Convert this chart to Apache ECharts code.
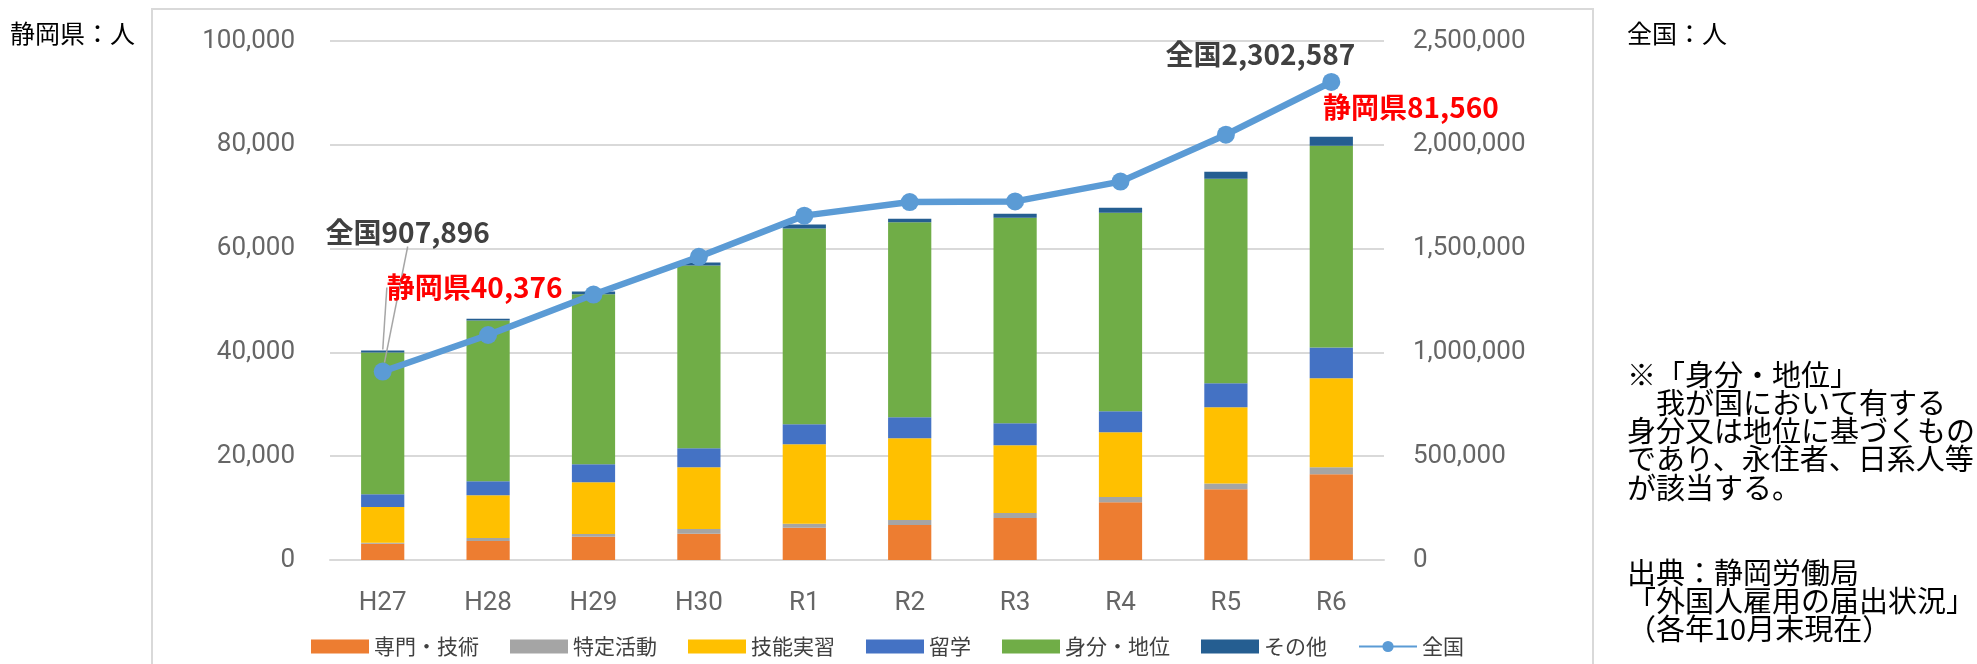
<!DOCTYPE html>
<html>
<head>
<meta charset="utf-8">
<script src="https://cdn.jsdelivr.net/npm/echarts@6/dist/echarts.min.js"></script>
<style>
  html, body { margin: 0; padding: 0; background: #fff; }
  #chart { width: 1977px; height: 664px; }
</style>
</head>
<body>
<div id="chart"></div>
<script>
// 年度
const years = ["H27", "H28", "H29", "H30", "R1", "R2", "R3", "R4", "R5", "R6"];
// 静岡県（人）在留資格別
const senmon = [3130, 3650, 4480, 5060, 6210, 6730, 8080, 11150, 13650, 16540];
const tokutei = [200, 580, 520, 900, 770, 960, 960, 970, 1100, 1340];
const ginou = [6860, 8270, 10000, 11920, 15330, 15770, 13080, 12500, 14670, 17120];
const ryugaku = [2500, 2690, 3460, 3660, 3840, 4040, 4230, 4030, 4620, 5960];
const mibun = [27310, 30960, 32750, 35190, 37700, 37560, 39610, 38270, 39420, 38840];
const sonota = [376, 350, 520, 580, 770, 710, 770, 960, 1340, 1760];
// 全国（人）
const zenkoku = [907896, 1083769, 1278670, 1460463, 1658804, 1724328, 1727221, 1822725, 2048675, 2302587];
// 軸目盛
const leftMax = 100000, leftStep = 20000;
const rightMax = 2500000, rightStep = 500000;

const last = years.length - 1;
const fmt = (v) => Number(v).toLocaleString("en-US");
// 静岡県合計（積み上げの合計）
const shizuokaTotal = years.map((_, i) =>
  senmon[i] + tokutei[i] + ginou[i] + ryugaku[i] + mibun[i] + sonota[i]);

const chart = echarts.init(document.getElementById("chart"), null, { renderer: "canvas" });

const barSeries = (name, values, color) => ({
  name: name,
  type: "bar",
  stack: "shizuoka",
  barWidth: "41%",
  yAxisIndex: 0,
  itemStyle: { color: color },
  data: values,
});

const leader = { show: false, lineStyle: { color: "#A6A6A6", width: 1.5 } };
const bigLabel = { fontSize: 28, fontWeight: "bold", fontFamily: "Noto Sans CJK JP" };

const option = {
  animation: false,
  textStyle: { fontFamily: "Noto Sans CJK JP" },
  grid: { left: 330, right: 593, top: 41, bottom: 104 },
  legend: {
    left: 306,
    top: 631,
    itemWidth: 58,
    itemHeight: 14,
    itemGap: 31,
    textStyle: { fontSize: 21, color: "#404040", fontFamily: "Noto Sans CJK JP" },
    data: [
      { name: "専門・技術", icon: "rect" },
      { name: "特定活動", icon: "rect" },
      { name: "技能実習", icon: "rect" },
      { name: "留学", icon: "rect" },
      { name: "身分・地位", icon: "rect" },
      { name: "その他", icon: "rect" },
      { name: "全国" },
    ],
  },
  xAxis: {
    type: "category",
    data: years,
    axisTick: { show: false },
    axisLine: { lineStyle: { color: "#D9D9D9", width: 2 } },
    axisLabel: { margin: 30, fontSize: 26, color: "#666", fontFamily: "Roboto" },
  },
  yAxis: [
    {
      type: "value",
      min: 0,
      max: leftMax,
      interval: leftStep,
      axisLine: { show: false },
      axisTick: { show: false },
      splitLine: { lineStyle: { color: "#D9D9D9", width: 2 } },
      axisLabel: { margin: 35, fontSize: 26, color: "#666", fontFamily: "Roboto", formatter: fmt },
    },
    {
      type: "value",
      min: 0,
      max: rightMax,
      interval: rightStep,
      position: "right",
      axisLine: { show: false },
      axisTick: { show: false },
      splitLine: { show: false },
      axisLabel: { margin: 29, fontSize: 26, color: "#666", fontFamily: "Roboto", formatter: fmt },
    },
  ],
  series: [
    barSeries("専門・技術", senmon, "#ED7D31"),
    barSeries("特定活動", tokutei, "#A5A5A5"),
    barSeries("技能実習", ginou, "#FFC000"),
    barSeries("留学", ryugaku, "#4472C4"),
    barSeries("身分・地位", mibun, "#70AD47"),
    barSeries("その他", sonota, "#255E91"),
    {
      name: "全国",
      type: "line",
      yAxisIndex: 1,
      symbol: "circle",
      symbolSize: 18,
      z: 5,
      itemStyle: { color: "#5B9BD5" },
      lineStyle: { color: "#5B9BD5", width: 6.5 },
      label: {
        show: false,
        position: "inside",
        color: "#404040",
        ...bigLabel,
        formatter: (p) => "全国" + fmt(p.value),
      },
      labelLine: leader,
      labelLayout: (p) => (p.dataIndex === 0 ? { dx: 25, dy: -139 } : { dx: -71, dy: -28 }),
      data: zenkoku.map((v, i) =>
        i === 0 ? { value: v, label: { show: true }, labelLine: { show: true } }
        : i === last ? { value: v, label: { show: true } }
        : v
      ),
    },
    // 静岡県合計ラベル（H27）用：積み上げ上端に置く、点は見せない
    {
      name: "静岡県計",
      type: "line",
      yAxisIndex: 0,
      symbol: "circle",
      symbolSize: 2,
      z: 6,
      itemStyle: { color: "rgba(0,0,0,0)" },
      lineStyle: { width: 0, opacity: 0 },
      label: {
        show: false,
        position: "inside",
        color: "#FF0000",
        ...bigLabel,
        formatter: (p) => "静岡県" + fmt(p.value),
      },
      labelLine: leader,
      labelLayout: { dx: 92, dy: -63 },
      data: shizuokaTotal.map((v, i) =>
        i === 0 ? { value: v, label: { show: true }, labelLine: { show: true } } : "-"
      ),
    },
  ],
  graphic: [
    // 外枠
    {
      type: "rect",
      z: -10,
      shape: { x: 152, y: 9, width: 1441, height: 700 },
      style: { fill: "none", stroke: "#D9D9D9", lineWidth: 2 },
    },
    {
      type: "text",
      left: 10,
      top: 21,
      style: { text: "静岡県：人", fontSize: 25, fill: "#000", fontFamily: "Noto Sans CJK JP" },
    },
    {
      type: "text",
      left: 1627,
      top: 21,
      style: { text: "全国：人", fontSize: 25, fill: "#000", fontFamily: "Noto Sans CJK JP" },
    },
    // R6 の静岡県合計ラベル
    {
      type: "text",
      left: 1323,
      top: 93,
      z: 100,
      style: {
        text: "静岡県" + fmt(shizuokaTotal[last]),
        fill: "#FF0000",
        ...bigLabel,
      },
    },
    {
      type: "text",
      left: 1627,
      top: 360,
      style: {
        text: "※「身分・地位」\n　我が国において有する\n身分又は地位に基づくもの\nであり、永住者、日系人等\nが該当する。\n\n\n出典：静岡労働局\n「外国人雇用の届出状況」\n（各年10月末現在）",
        fontSize: 29,
        lineHeight: 28.3,
        fill: "#000",
        fontFamily: "Noto Sans CJK JP",
      },
    },
  ],
};

chart.setOption(option);
</script>
</body>
</html>
